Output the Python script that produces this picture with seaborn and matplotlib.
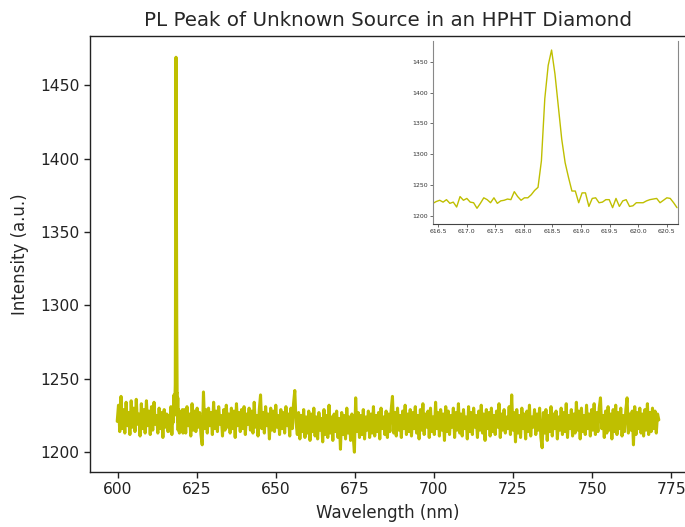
import numpy as np
import matplotlib
matplotlib.use("Agg")
import matplotlib.pyplot as plt
import seaborn as sns

# spectrum (intensity in a.u.)
left_start, left_end = 599.9, 616.35
left_vals = [1221, 1232, 1214, 1238, 1216, 1229, 1213, 1234, 1218, 1227,
             1212, 1235, 1217, 1230, 1214, 1236, 1219, 1226, 1211, 1233,
             1216, 1229, 1213, 1235, 1218, 1228, 1212, 1231, 1215, 1234,
             1219, 1225, 1213, 1230, 1216, 1227, 1210, 1229, 1217, 1226,
             1214, 1224]

# the peak region (also used for the inset)
peak_start, peak_end = 616.41, 620.68
peak_vals = [1220, 1223, 1225, 1222, 1226, 1220, 1222, 1214, 1231, 1225,
             1228, 1222, 1221, 1212, 1220, 1229, 1226, 1221, 1229, 1220,
             1224, 1225, 1227, 1226, 1239, 1231, 1225, 1229, 1229, 1234,
             1241, 1246, 1289, 1390, 1444, 1469, 1430, 1377, 1324, 1286,
             1262, 1240, 1240, 1221, 1237, 1237, 1215, 1228, 1229, 1221,
             1222, 1226, 1226, 1213, 1228, 1215, 1224, 1226, 1215, 1216,
             1221, 1221, 1221, 1224, 1226, 1227, 1228, 1221, 1225, 1229,
             1228, 1221, 1213]

right_start, right_end = 620.75, 771.1
right_vals = [
    1216, 1229, 1213, 1231, 1218, 1226, 1211, 1233, 1215, 1228, 1214, 1230, 1217, 1227, 1212, 1205, 1241, 1216, 1229, 1213,
    1230, 1218, 1227, 1212, 1234, 1216, 1228, 1214, 1231, 1219, 1225, 1211, 1229, 1215, 1232, 1217, 1226, 1213, 1230, 1216,
    1228, 1210, 1233, 1218, 1227, 1214, 1229, 1216, 1231, 1212, 1226, 1219, 1230, 1215, 1228, 1213, 1234, 1217, 1225, 1211,
    1229, 1239, 1216, 1227, 1213, 1231, 1218, 1226, 1209, 1230, 1215, 1228, 1214, 1232, 1217, 1225, 1212, 1229, 1216, 1227,
    1213, 1231, 1218, 1226, 1211, 1230, 1216, 1233, 1242, 1220, 1212, 1227, 1209, 1225, 1214, 1229, 1210, 1224, 1213, 1228,
    1208, 1226, 1214, 1230, 1211, 1224, 1209, 1227, 1215, 1223, 1207, 1229, 1212, 1225, 1210, 1232, 1213, 1224, 1208, 1226,
    1214, 1228, 1210, 1223, 1202, 1227, 1212, 1225, 1209, 1230, 1213, 1224, 1208, 1226, 1211, 1200, 1237, 1214, 1227, 1210,
    1225, 1212, 1229, 1209, 1224, 1215, 1228, 1210, 1226, 1213, 1231, 1211, 1225, 1214, 1227, 1209, 1230, 1216, 1224, 1212,
    1228, 1210, 1226, 1214, 1229, 1238, 1213, 1227, 1211, 1230, 1215, 1225, 1210, 1228, 1216, 1232, 1212, 1226, 1214, 1229,
    1211, 1227, 1216, 1231, 1213, 1225, 1209, 1229, 1215, 1233, 1212, 1226, 1217, 1228, 1210, 1230, 1214, 1224, 1212, 1234,
    1216, 1227, 1211, 1229, 1215, 1226, 1208, 1231, 1214, 1228, 1212, 1225, 1217, 1230, 1210, 1227, 1215, 1233, 1213, 1226,
    1211, 1229, 1216, 1224, 1209, 1231, 1214, 1227, 1212, 1230, 1217, 1225, 1210, 1228, 1215, 1232, 1213, 1226, 1208, 1229,
    1216, 1227, 1211, 1230, 1214, 1225, 1212, 1228, 1217, 1233, 1210, 1226, 1215, 1229, 1213, 1224, 1216, 1231, 1212, 1239,
    1215, 1227, 1207, 1229, 1213, 1225, 1210, 1230, 1216, 1226, 1209, 1228, 1214, 1232, 1211, 1224, 1217, 1229, 1212, 1226,
    1215, 1230, 1210, 1203, 1227, 1213, 1229, 1208, 1225, 1214, 1231, 1211, 1226, 1216, 1228, 1209, 1224, 1215, 1230, 1212,
    1227, 1214, 1233, 1210, 1225, 1216, 1229, 1211, 1226, 1213, 1234, 1215, 1228, 1209, 1230, 1214, 1225, 1212, 1232, 1216,
    1226, 1211, 1229, 1215, 1233, 1212, 1227, 1214, 1230, 1237, 1216, 1225, 1210, 1228, 1213, 1231, 1215, 1226, 1209, 1229,
    1214, 1232, 1212, 1227, 1216, 1230, 1211, 1225, 1214, 1229, 1237, 1213, 1226, 1215, 1228, 1205, 1231, 1212, 1227, 1216,
    1230, 1213, 1226, 1211, 1229, 1215, 1233, 1212, 1227, 1214, 1230, 1216, 1228, 1213, 1226, 1222,
]

main_xticks = [600, 625, 650, 675, 700, 725, 750, 775]
main_yticks = [1200, 1250, 1300, 1350, 1400, 1450]
inset_xticks = [616.5, 617.0, 617.5, 618.0, 618.5, 619.0, 619.5, 620.0, 620.5]
inset_yticks = [1200, 1250, 1300, 1350, 1400, 1450]

wl = np.concatenate([np.linspace(left_start, left_end, len(left_vals)),
                     np.linspace(peak_start, peak_end, len(peak_vals)),
                     np.linspace(right_start, right_end, len(right_vals))])
inten = np.array(left_vals + peak_vals + right_vals, dtype=float)
peak_wl = np.linspace(peak_start, peak_end, len(peak_vals))

sns.set_style("ticks")
plt.rcParams['font.family'] = ['DejaVu Sans']

fig = plt.figure(figsize=(6.85, 5.27), dpi=100)
ax = fig.add_axes([0.1314, 0.1044, 0.8701, 0.8273])
sns.lineplot(x=wl, y=inten, ax=ax, color='y', lw=2.2, estimator=None, sort=False)
ax.set_xlim(591.3, 779.7)
ax.set_ylim(1186.5, 1483.5)
ax.set_xticks(main_xticks)
ax.set_yticks(main_yticks)
ax.tick_params(labelsize=11.2, length=4, width=1, colors='#222222')
ax.set_xlabel("Wavelength (nm)", fontsize=12, labelpad=5)
ax.set_ylabel("Intensity (a.u.)", fontsize=12, labelpad=8)
ax.set_title("PL Peak of Unknown Source in an HPHT Diamond", fontsize=14.3, pad=7)
for s in ax.spines.values():
    s.set_linewidth(1.0)
    s.set_color('#222222')

# inset
ins = fig.add_axes([0.632, 0.575, 0.358, 0.347])
ins.set_facecolor('white')
sns.lineplot(x=peak_wl, y=peak_vals, ax=ins, color='y', lw=1.0, estimator=None, sort=False)
ins.set_xlim(616.41, 620.7)
ins.set_ylim(1186.5, 1483.5)
ins.set_xticks(inset_xticks)
ins.set_yticks(inset_yticks)
ins.set_xticklabels([f"{t:.1f}" for t in inset_xticks])
ins.tick_params(labelsize=4.5, length=2, width=0.5, pad=1.5, colors='#333333')
ins.spines['top'].set_visible(False)
for k in ['left', 'right', 'bottom']:
    ins.spines[k].set_linewidth(0.8)
    ins.spines[k].set_color('#888888')
ins.spines['bottom'].set_color('#444444')

fig.savefig("out.png", dpi=100)
